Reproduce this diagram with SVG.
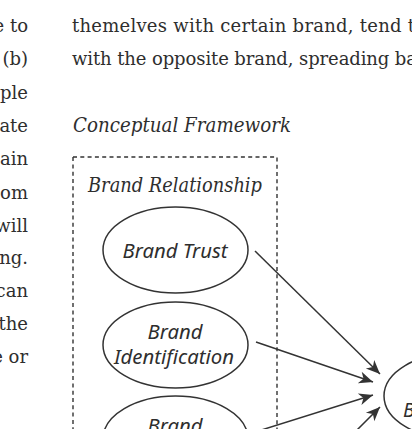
<svg xmlns="http://www.w3.org/2000/svg" width="412" height="429" viewBox="0 0 412 429">
<defs>
<style>
.body{font-family:"DejaVu Serif","Liberation Serif",serif;font-size:18px;fill:#2e2e2e;}
.head{font-family:"DejaVu Serif","Liberation Serif",serif;font-style:italic;font-size:19.5px;fill:#2e2e2e;}
.lbl{font-family:"Noto Sans","DejaVu Sans",sans-serif;font-style:italic;font-size:19.5px;fill:#2e2e2e;}
.ell{fill:none;stroke:#333;stroke-width:1.5;}
.arr{fill:none;stroke:#333;stroke-width:1.5;marker-end:url(#ah);}
</style>
<marker id="ah" markerUnits="userSpaceOnUse" markerWidth="16" markerHeight="14" viewBox="-15 -7 16 14" refX="0" refY="0" orient="auto">
<path d="M0,0 L-14,-6 L-10,0 L-14,6 Z" fill="#333"/>
</marker>
</defs>
<rect width="412" height="429" fill="#fff"/>
<g id="left-column">
<text class="body" x="28" y="32" text-anchor="end">e to</text>
<text class="body" x="28" y="65" text-anchor="end">(b)</text>
<text class="body" x="28" y="99" text-anchor="end">ple</text>
<text class="body" x="28" y="132" text-anchor="end">ate</text>
<text class="body" x="28" y="165" text-anchor="end">ain</text>
<text class="body" x="28" y="199" text-anchor="end">om</text>
<text class="body" x="28" y="232" text-anchor="end">will</text>
<text class="body" x="28" y="264" text-anchor="end">ng.</text>
<text class="body" x="28" y="297" text-anchor="end">can</text>
<text class="body" x="28" y="330" text-anchor="end">the</text>
<text class="body" x="28" y="363" text-anchor="end">e or</text>
</g>
<g id="right-column">
<text class="body" x="72" y="32" textLength="343" lengthAdjust="spacing">themelves with certain brand, tend t</text>
<text class="body" x="72" y="65" textLength="345" lengthAdjust="spacing">with the opposite brand, spreading ba</text>
<text class="head" x="73" y="132" textLength="218" lengthAdjust="spacingAndGlyphs">Conceptual Framework</text>
</g>
<g id="brand-relationship">
<rect x="73" y="157" width="204" height="320" fill="none" stroke="#333" stroke-width="1.4" stroke-dasharray="4 3.3"/>
<text class="head" x="88" y="192" font-size="20" textLength="174" lengthAdjust="spacingAndGlyphs">Brand Relationship</text>
</g>
<g id="brand-trust">
<ellipse class="ell" cx="175.5" cy="250" rx="72.5" ry="43"/>
<text class="lbl" x="175" y="258" text-anchor="middle" textLength="105" lengthAdjust="spacingAndGlyphs">Brand Trust</text>
</g>
<g id="brand-identification">
<ellipse class="ell" cx="175.5" cy="345" rx="72.5" ry="43"/>
<text class="lbl" x="175" y="339" text-anchor="middle" textLength="55" lengthAdjust="spacingAndGlyphs">Brand</text>
<text class="lbl" x="174" y="364" text-anchor="middle" textLength="120" lengthAdjust="spacingAndGlyphs">Identification</text>
</g>
<g id="brand-third">
<ellipse class="ell" cx="175.5" cy="439" rx="72.5" ry="43"/>
<text class="lbl" x="175" y="433" text-anchor="middle" textLength="55" lengthAdjust="spacingAndGlyphs">Brand</text>
</g>
<g id="brand-outcome">
<ellipse class="ell" cx="456" cy="396" rx="72" ry="43"/>
<text class="lbl" x="403" y="417">Brand</text>
</g>
<g id="connectors">
<line class="arr" x1="255" y1="251" x2="380" y2="374"/>
<line class="arr" x1="256" y1="342" x2="373" y2="382"/>
<line class="arr" x1="255" y1="432" x2="373" y2="395"/>
<line class="arr" x1="337" y1="450" x2="380" y2="407"/>
</g>
</svg>
